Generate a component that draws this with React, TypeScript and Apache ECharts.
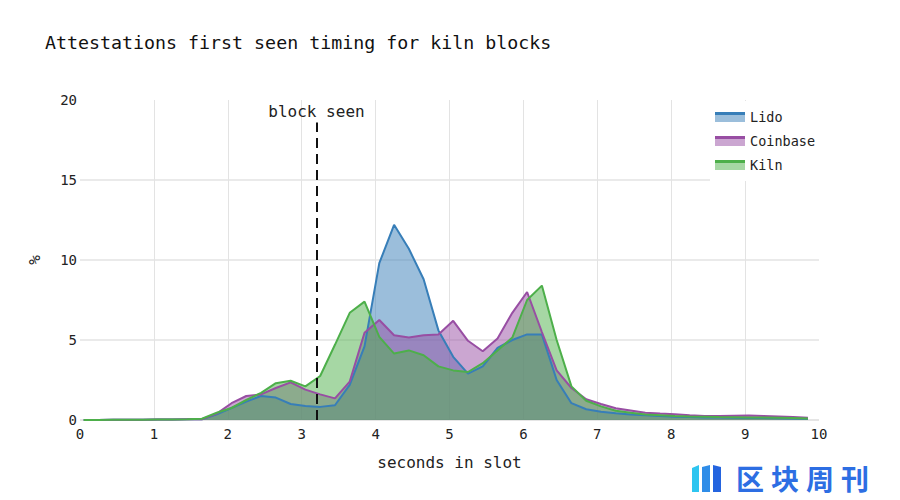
import React, { useEffect, useRef } from "react";
import * as echarts from "echarts";

const TITLE = "Attestations first seen timing for kiln blocks";
const X_NAME = "seconds in slot";
const Y_NAME = "%";
const BLOCK_SEEN_X = 3.2;
const BLOCK_SEEN_TOP = 18.6;
const BLOCK_SEEN_LABEL = "block seen";

const SECONDS: number[] = [
  0.05, 0.25, 0.45, 0.65, 0.85, 1.05, 1.25, 1.45, 1.65, 1.85,
  2.05, 2.25, 2.45, 2.65, 2.85, 3.05, 3.25, 3.45, 3.65, 3.85,
  4.05, 4.25, 4.45, 4.65, 4.85, 5.05, 5.25, 5.45, 5.65, 5.85,
  6.05, 6.25, 6.45, 6.65, 6.85, 7.05, 7.25, 7.45, 7.65, 7.85,
  8.05, 8.25, 8.45, 8.65, 8.85, 9.05, 9.25, 9.45, 9.65, 9.85,
];

const LIDO: number[] = [
  0, 0, 0.01, 0.01, 0.02, 0.03, 0.03, 0.04, 0.05, 0.35,
  0.75, 1.15, 1.5, 1.4, 1.0, 0.88, 0.82, 0.92, 2.2, 4.6,
  9.8, 12.2, 10.7, 8.8, 5.6, 3.95, 2.9, 3.35, 4.5, 5.0,
  5.35, 5.35, 2.5, 1.05, 0.67, 0.52, 0.42, 0.35, 0.3, 0.25,
  0.2, 0.18, 0.16, 0.15, 0.14, 0.13, 0.12, 0.11, 0.1, 0.08,
];

const COINBASE: number[] = [
  0, 0, 0.01, 0.01, 0.02, 0.03, 0.03, 0.04, 0.05, 0.4,
  1.05, 1.5, 1.6, 2.0, 2.35, 1.9, 1.6, 1.35, 2.4, 5.45,
  6.25, 5.3, 5.15, 5.3, 5.35, 6.2, 4.95, 4.3, 5.1, 6.7,
  8.0, 5.5, 3.1, 2.0, 1.3, 1.0, 0.73, 0.6, 0.46, 0.4,
  0.36, 0.3, 0.25, 0.25, 0.27, 0.28, 0.25, 0.22, 0.18, 0.14,
];

const KILN: number[] = [
  0, 0, 0.01, 0.01, 0.02, 0.03, 0.03, 0.04, 0.08, 0.45,
  0.75, 1.25, 1.7, 2.3, 2.45, 2.1, 2.75, 4.7, 6.7, 7.4,
  5.2, 4.15, 4.35, 4.05, 3.35, 3.1, 3.0, 3.55, 4.35, 5.15,
  7.5, 8.4, 5.0, 2.1, 1.2, 0.85, 0.58, 0.45, 0.35, 0.3,
  0.25, 0.22, 0.2, 0.18, 0.17, 0.16, 0.15, 0.14, 0.12, 0.1,
];

const SERIES_NAMES = ["Lido", "Coinbase", "Kiln"];
const SERIES_VALUES = [LIDO, COINBASE, KILN];
const LINE_COLORS = ["#377eb8", "#984ea3", "#4daf4a"];
const FILL_COLORS = [
  "rgba(55,126,184,0.5)",
  "rgba(152,78,163,0.5)",
  "rgba(77,175,74,0.5)",
];
const LEGEND_FILL = ["#9bbedb", "#cba6d1", "#a6d7a4"];

const MONO = "'DejaVu Sans Mono', 'Liberation Mono', monospace";

export default function App() {
  const ref = useRef<HTMLDivElement>(null);

  useEffect(() => {
    if (!ref.current) return;
    const chart = echarts.init(ref.current, null, { renderer: "svg" });

    const series: any[] = SERIES_NAMES.map((name, i) => ({
      name,
      type: "line",
      data: SECONDS.map((x, j) => [x, SERIES_VALUES[i][j]]),
      showSymbol: false,
      symbol: "none",
      lineStyle: { color: LINE_COLORS[i], width: 2 },
      itemStyle: { color: LINE_COLORS[i] },
      areaStyle: { color: FILL_COLORS[i], opacity: 1 },
      z: 2,
    }));

    series[2].markLine = {
      silent: true,
      symbol: "none",
      animation: false,
      lineStyle: { color: "#111", width: 2, type: [10, 6] },
      label: {
        show: true,
        position: "end",
        formatter: BLOCK_SEEN_LABEL,
        fontFamily: MONO,
        fontSize: 16,
        color: "#222",
        distance: 3,
      },
      data: [
        [
          { coord: [BLOCK_SEEN_X, 0] },
          { coord: [BLOCK_SEEN_X, BLOCK_SEEN_TOP] },
        ],
      ],
    };

    const legendData = SERIES_NAMES.map((name, i) => ({
      name,
      itemStyle: {
        color: new echarts.graphic.LinearGradient(0, 0, 0, 1, [
          { offset: 0, color: LINE_COLORS[i] },
          { offset: 0.3, color: LINE_COLORS[i] },
          { offset: 0.3, color: LEGEND_FILL[i] },
          { offset: 1, color: LEGEND_FILL[i] },
        ]),
        borderWidth: 0,
      },
    }));

    const transparent = "rgba(0,0,0,0)";
    const grid = "#e3e3e3";

    chart.setOption({
      animation: false,
      backgroundColor: "#ffffff",
      title: {
        text: TITLE,
        left: 40,
        top: 28,
        textStyle: {
          fontFamily: MONO,
          fontSize: 18.3,
          fontWeight: "normal",
          color: "#111",
        },
      },
      legend: {
        orient: "vertical",
        left: 710,
        top: 101,
        padding: [9, 8, 9, 5],
        backgroundColor: "#ffffff",
        itemWidth: 30,
        itemHeight: 10,
        itemGap: 10,
        icon: "rect",
        textStyle: { fontFamily: MONO, fontSize: 13.5, color: "#222" },
        data: legendData,
        z: 10,
      },
      grid: { left: 80, right: 81, top: 100, bottom: 80 },
      xAxis: {
        type: "value",
        min: 0,
        max: 10,
        interval: 1,
        name: X_NAME,
        nameLocation: "middle",
        nameGap: 34,
        nameTextStyle: { fontFamily: MONO, fontSize: 16, color: "#222" },
        axisLine: { show: false },
        axisTick: { show: false },
        axisLabel: {
          fontFamily: MONO,
          fontSize: 14,
          color: "#222",
          margin: 7,
        },
        splitLine: {
          show: true,
          lineStyle: {
            color: [transparent, grid, grid, grid, grid, grid, grid, grid, grid, grid, transparent],
            width: 1,
          },
        },
      },
      yAxis: {
        type: "value",
        min: 0,
        max: 20,
        interval: 5,
        name: Y_NAME,
        nameLocation: "middle",
        nameGap: 38,
        nameTextStyle: { fontFamily: MONO, fontSize: 16, color: "#222" },
        axisLine: { show: false },
        axisTick: { show: false },
        axisLabel: {
          fontFamily: MONO,
          fontSize: 14,
          color: "#222",
          margin: 3,
        },
        splitLine: {
          show: true,
          lineStyle: {
            color: ["#dcdcdc", grid, grid, grid, transparent],
            width: 1.5,
          },
        },
      },
      graphic: [
        {
          type: "group",
          left: 692,
          top: 465,
          children: [
            {
              type: "polygon",
              shape: { points: [[0, 3], [7, 0], [7, 27], [0, 27]] },
              style: { fill: "#2ec5f0" },
            },
            {
              type: "polygon",
              shape: { points: [[10, 2], [18, 0], [18, 27], [10, 27]] },
              style: { fill: "#2f8de8" },
            },
            {
              type: "polygon",
              shape: { points: [[21, 0], [29, 2], [29, 27], [21, 27]] },
              style: { fill: "#2464df" },
            },
          ],
        },
        ...["区", "块", "周", "刊"].map((ch, i) => ({
          type: "text",
          left: 736 + i * 35,
          top: 464,
          style: {
            text: ch,
            fontFamily: "'Noto Sans CJK SC', sans-serif",
            fontSize: 28,
            fontWeight: "bold",
            fill: "#2d6ee3",
          },
        })),
      ],
      series,
    });

    return () => {
      chart.dispose();
    };
  }, []);

  return (
    <div
      ref={ref}
      style={{ position: "fixed", left: 0, top: 0, width: 900, height: 500 }}
    />
  );
}
